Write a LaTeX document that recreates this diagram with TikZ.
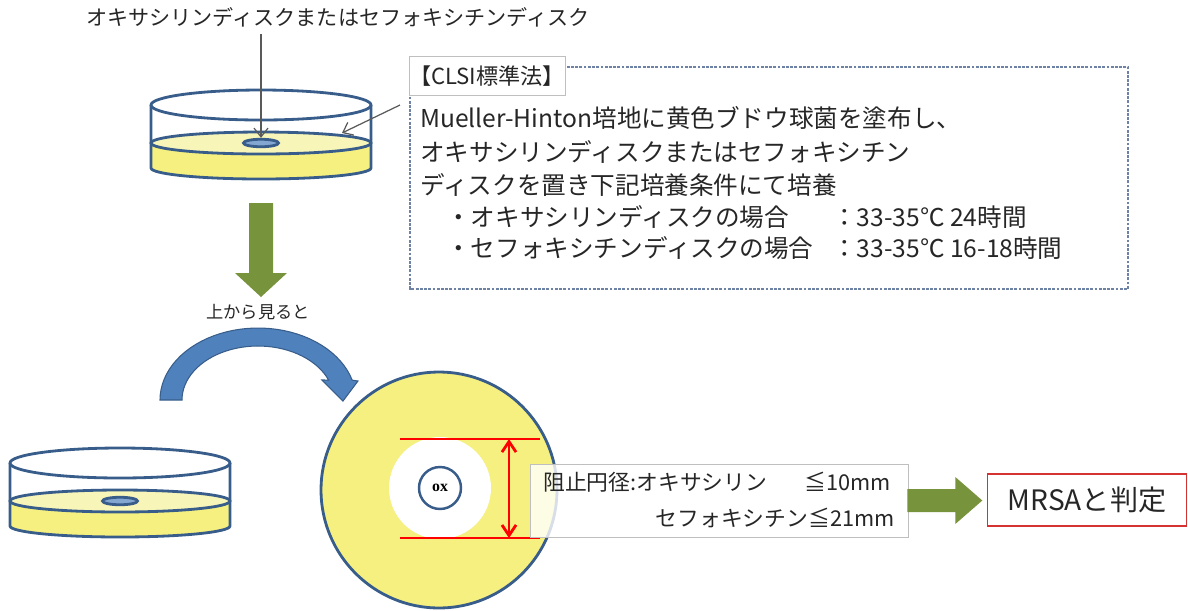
\documentclass[tikz,border=0pt]{standalone}
\usepackage{fontspec}
\setmainfont{Noto Sans CJK JP}
\newfontfamily\oxfont{Liberation Serif}
\usetikzlibrary{arrows.meta,shapes.geometric}
\tikzset{>=latex}

\definecolor{dishblue}{RGB}{56,93,138}
\definecolor{agar}{RGB}{245,240,128}
\definecolor{agartop}{RGB}{248,245,185}
\definecolor{arrowgreen}{RGB}{119,147,60}
\definecolor{curveblue}{RGB}{79,129,189}
\definecolor{pointergray}{RGB}{89,89,89}
\definecolor{framegray}{RGB}{191,191,191}
\definecolor{dashblue}{RGB}{110,130,165}
\definecolor{verdictred}{RGB}{215,50,50}

\tikzset{
  dish/.style={draw=dishblue, line width=1.6pt},
  txt/.style={text=black!85, inner sep=0pt},
  note/.style={txt, anchor=west, font=\fontsize{14}{16}\selectfont},
  pointer/.style={draw=pointergray, line width=0.7pt, -{Straight Barb[length=5pt,width=8pt]}},
  zoneline/.style={draw=red, line width=1.1pt},
}

% petri dish: #1 = centre x, #2 = rim y, #3 = prefix for the disc name
\newcommand{\petridish}[3]{
  \fill[agar] (#1-110,#2+38) -- (#1-110,#2+63) arc[start angle=180, end angle=0, x radius=110, y radius=11] -- (#1+110,#2+38) -- cycle;
  \draw[dish] (#1-110,#2) -- (#1-110,#2+63) arc[start angle=180, end angle=0, x radius=110, y radius=11] -- (#1+110,#2);
  \draw[dish] (#1,#2) ellipse [x radius=110, y radius=15];
  \draw[dish, fill=agartop] (#1,#2+38) ellipse [x radius=110, y radius=11];
  \node[ellipse, dish, fill=curveblue!70, minimum width=0.7cm, minimum height=0.15cm, inner sep=0pt] (#3disc) at (#1,#2+38) {};
}

\begin{document}
\begin{tikzpicture}[x=0.02cm, y=-0.02cm]
\useasboundingbox (0,0) rectangle (1188,610);

% dish seen from the side, disc placed on the agar
\petridish{261}{105}{top}
\node[txt, font=\fontsize{12}{14}\selectfont] (disclabel) at (338,17) {オキサシリンディスクまたはセフォキシチンディスク};
\draw[pointer, shorten <=4pt] (disclabel.south -| topdisc.north) -- (topdisc.north);

% method box
\coordinate (calloutstart) at (400,105);
\coordinate (agaredge) at (342,133);
\draw[pointer] (calloutstart) -- (agaredge);
\draw[dashblue, line width=0.8pt, dash pattern=on 1.6pt off 0.8pt] (410,67) rectangle (1128,289);
\node[txt, draw=framegray, fill=white, minimum width=2.9cm, minimum height=0.78cm, font=\fontsize{12.6}{15}\selectfont] (clsi) at (487,76) {【CLSI標準法】};
\node[note] (line1) at (420,118) {Mueller-Hinton培地に黄色ブドウ球菌を塗布し、};
\node[note] (line2) at (420,152) {オキサシリンディスクまたはセフォキシチン};
\node[note] (line3) at (420,185) {ディスクを置き下記培養条件にて培養};
\node[note] (oxcase) at (446,217) {・オキサシリンディスクの場合};
\node[note] (oxtime) at (832,217) {：33-35℃ 24時間};
\node[note] (cfcase) at (446,248) {・セフォキシチンディスクの場合};
\node[note] (cftime) at (832,248) {：33-35℃ 16-18時間};

% incubate, then look from above
\fill[arrowgreen] (249,203) -- (273,203) -- (273,273) -- (287,273) -- (261,297) -- (235,273) -- (249,273) -- cycle;
\node[txt, font=\fontsize{9.8}{12}\selectfont] (topview) at (258,312) {上から見ると};
\filldraw[fill=curveblue, draw=dishblue, line width=0.6pt]
  plot[domain=180:16, samples=40] ({258+98*cos(\x)},{400-72*sin(\x)})
  -- (358,381) -- (343,401) -- (322,380)
  -- plot[domain=21.7:180, samples=40] ({258+76*cos(\x)},{400-54*sin(\x)}) -- cycle;

\petridish{120}{463}{side}

% plate from above with inhibition zone
\node[circle, dish, fill=agar, minimum size=4.72cm, inner sep=0pt] (plate) at (439,490) {};
\node[circle, fill=white, minimum size=2.04cm, inner sep=0pt] (zone) at (440,488) {};
\node[circle, dish, line width=1.4pt, minimum size=0.84cm, inner sep=0pt, font=\oxfont\bfseries\fontsize{9}{10}\selectfont] (oxdisc) at (440,488) {ox};
\coordinate (zonetop) at (509,439);
\coordinate (zonebottom) at (509,538);
\draw[zoneline] (zonetop) ++(-109,0) -- ++(140,0);
\draw[zoneline] (zonebottom) ++(-109,0) -- ++(140,0);
\draw[zoneline, line width=1.6pt, {Straight Barb[length=6pt,width=8pt]}-{Straight Barb[length=6pt,width=8pt]}] (zonetop) -- (zonebottom);

% reading and verdict
\node[draw=framegray, fill=white, fill opacity=0.8, minimum width=7.56cm, minimum height=1.46cm, inner sep=0pt] (result) at (719,500.5) {};
\node[txt, anchor=west, font=\fontsize{12.4}{14}\selectfont] (oxlimit) at (543,482) {阻止円径:オキサシリン\hspace{1.7em}≦10mm};
\node[txt, anchor=east, font=\fontsize{12.4}{14}\selectfont] (cflimit) at (895,518) {セフォキシチン≦21mm};
\fill[arrowgreen] (result.east) ++(-1,-11.5) -- ++(48,0) -- ++(0,-12) -- ++(27,23.5) -- ++(-27,23.5) -- ++(0,-12) -- ++(-48,0) -- cycle;
\node[txt, draw=verdictred, line width=0.8pt, fill=white, minimum width=3.98cm, minimum height=1.04cm, font=\fontsize{16}{19}\selectfont] (verdict) at (1087,500) {MRSAと判定};
\end{tikzpicture}
\end{document}
